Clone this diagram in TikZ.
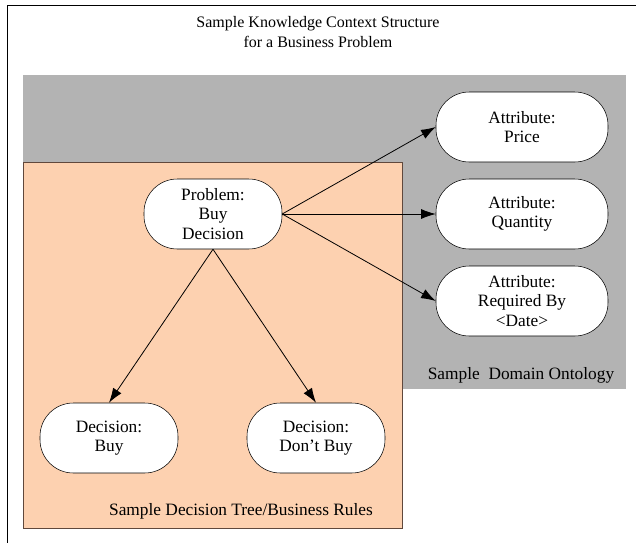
\documentclass[tikz,border=0pt]{standalone}
\usepackage{fontspec}
\setmainfont{Liberation Serif}
\usetikzlibrary{arrows.meta}
\definecolor{ontgray}{RGB}{179,179,179}
\definecolor{rulepeach}{RGB}{253,209,176}
\definecolor{rulebrown}{RGB}{96,72,60}
\tikzset{
    kbox/.style={draw=black,fill=white,rounded corners=25pt,minimum width=103.5pt,minimum height=52.5pt,
        align=center,inner sep=0pt,font=\fontsize{13}{14.5}\selectfont},
    attrbox/.style={kbox,minimum width=129pt},
    kfont/.style={font=\fontsize{13}{15}\selectfont},
    karrow/.style={-{Latex[length=11pt,width=7.5pt]},black,semithick}
}

\begin{document}
\begin{tikzpicture}[x=0.75pt,y=-0.75pt]
    \useasboundingbox (0,0) rectangle (636,543);

    % frame
    \draw[semithick] (7,543) -- (7,5) -- (636,5);
    \node[font=\fontsize{12}{15}\selectfont,align=center] (title) at (318,32) {Sample Knowledge Context Structure\\for a Business Problem};

    % ontology and rules areas
    \fill[ontgray] (23,75) rectangle (626,389);
    \filldraw[draw=rulebrown,fill=rulepeach] (23,162) rectangle (402,528);

    \node[kbox] (prob) at (213,214) {Problem:\\Buy\\Decision};
    \node[attrbox] (price) at (522,127) {Attribute:\\Price};
    \node[attrbox] (qty) at (522,214) {Attribute:\\Quantity};
    \node[attrbox] (reqby) at (522,301) {Attribute:\\Required By\\<Date>};
    \node[kbox] (dbuy) at (109,438) {Decision:\\Buy};
    \node[kbox] (dnbuy) at (316,438) {Decision:\\Don't Buy};

    \node[kfont] (ontlabel) at (521,375) {Sample\ \ Domain Ontology};
    \node[kfont] (rulelabel) at (241,511) {Sample Decision Tree/Business Rules};

    \draw[karrow] (prob.east) -- (price.west);
    \draw[karrow] (prob.east) -- (qty.west);
    \draw[karrow] (prob.east) -- (reqby.west);
    \draw[karrow] (prob.south) -- (dbuy.north);
    \draw[karrow] (prob.south) -- (dnbuy.north);
\end{tikzpicture}
\end{document}
